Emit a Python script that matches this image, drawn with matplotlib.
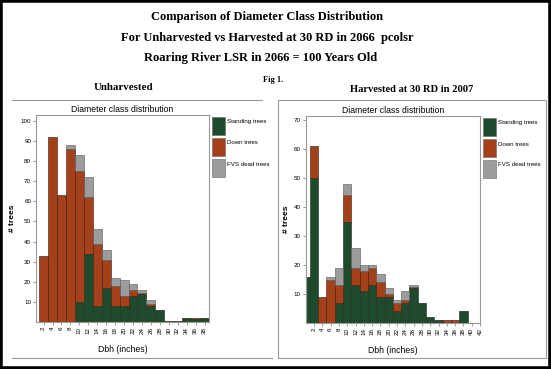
import matplotlib.pyplot as plt
from matplotlib.patches import Rectangle
from matplotlib.lines import Line2D
import numpy as np

# ---- data ----
# Unharvested
dbh_unh = [2, 4, 6, 8, 10, 12, 14, 16, 18, 20, 22, 24, 26, 28, 30, 32, 34, 36, 38]
stand_unh = [0, 0, 0, 0, 10, 34, 8, 17, 8, 8, 13, 14, 8, 6, 0.5, 0.5, 2, 1.5, 2]
down_unh = [33, 92, 63, 86, 65, 28, 31, 14, 10, 5, 3, 0.5, 1, 0, 0, 0, 0, 0.5, 0]
fvs_unh = [0, 0, 0, 2, 8, 10, 7, 5, 4, 8, 3, 1.5, 2, 0, 0, 0, 0, 0, 0]
ticks_unh = list(range(2, 39, 2))

# Harvested at 30 RD in 2007
dbh_harv = [0, 2, 4, 6, 8, 10, 12, 14, 16, 18, 20, 22, 24, 26, 28, 30, 32, 34, 36, 38, 40, 42]
stand_harv = [16, 50, 0, 0, 7, 35, 13, 11, 13, 9, 9, 4, 7, 12, 7, 2, 1, 0, 0, 4, 0, 0]
down_harv = [0, 11, 9, 15, 6, 9, 6, 7, 6, 5, 1, 3, 1, 0.5, 0, 0, 0, 1, 1, 0, 0, 0]
fvs_harv = [0, 0, 0, 1, 6, 4, 7, 2, 1, 3, 2, 1, 3, 0.5, 0, 0, 0, 0, 0, 0, 0, 0]
ticks_harv = list(range(2, 43, 2))

series_names = ['Standing trees', 'Down trees', 'FVS dead trees']
colors = ['#1e4b2d', '#a5411a', '#9c9c9c']

W, H = 551, 369
sans = ['Liberation Sans Narrow', 'Liberation Sans', 'DejaVu Sans']
serif = 'Liberation Serif'

fig = plt.figure(figsize=(W / 100, H / 100), dpi=100)

def fx(px):
    return px / W

def fy(py):
    return 1 - py / H

# titles
fig.text(fx(267), fy(17), 'Comparison of Diameter Class Distribution', ha='center', va='center',
         family=serif, weight='bold', size=9)
fig.text(fx(267), fy(38), 'For Unharvested vs Harvested at 30 RD in 2066  pcolsr', ha='center', va='center',
         family=serif, weight='bold', size=9)
fig.text(fx(261), fy(58), 'Roaring River LSR in 2066 = 100 Years Old', ha='center', va='center',
         family=serif, weight='bold', size=9)
fig.text(fx(273), fy(80), 'Fig 1.', ha='center', va='center', family=serif, weight='bold', size=6)
fig.text(fx(124), fy(87), 'Unharvested', ha='center', va='center', family=serif, weight='bold', size=7.8)
fig.text(fx(412), fy(90), 'Harvested at 30 RD in 2007', ha='center', va='center',
         family=serif, weight='bold', size=7.6)

# panel frame lines
fig.add_artist(Line2D([fx(12), fx(262)], [fy(100), fy(100)], color='#9a9a9a', lw=0.8))
fig.add_artist(Line2D([fx(12), fx(272)], [fy(357.5), fy(357.5)], color='#9a9a9a', lw=0.8))
fig.add_artist(Rectangle((fx(278), fy(357.5)), fx(268), (257.5) / H, fill=False,
                         edgecolor='#9a9a9a', lw=0.8))

# outer black border
fig.add_artist(Rectangle((0, 0), 1, 1, fill=False, edgecolor='black', lw=4,
                         transform=fig.transFigure))


def draw_panel(rect, dbh, stand, down, fvs, ticks, xlim, ylim, yticks, leg_x, leg_y):
    ax = fig.add_axes(rect)
    stand = np.array(stand)
    down = np.array(down)
    fvs = np.array(fvs)
    ax.bar(dbh, stand, width=2, color=colors[0], edgecolor='#1a2a1a', lw=0.4)
    ax.bar(dbh, down, width=2, bottom=stand, color=colors[1], edgecolor='#3a1a0a', lw=0.4)
    ax.bar(dbh, fvs, width=2, bottom=stand + down, color=colors[2], edgecolor='#555555', lw=0.4)
    ax.set_xlim(*xlim)
    ax.set_ylim(*ylim)
    ax.set_xticks(ticks)
    ax.set_xticklabels([str(t) for t in ticks], rotation=90, family=sans, size=4.5)
    ax.set_yticks(yticks)
    ax.set_yticklabels([str(t) for t in yticks], family=sans, size=4.5)
    ax.tick_params(length=2, width=0.5, color='#777777', pad=1.5)
    for s in ax.spines.values():
        s.set_color('#999999')
        s.set_linewidth(0.8)
    ax.set_title('Diameter class distribution', family=sans, size=6.2, pad=2)
    ax.set_xlabel('Dbh (inches)', family=sans, size=6.2, labelpad=8)
    ax.set_ylabel('# trees', family=sans, size=6, weight='bold', labelpad=3)
    # legend boxes
    for i, (name, c) in enumerate(zip(series_names, colors)):
        top = leg_y + i * 21
        fig.add_artist(Rectangle((fx(leg_x), fy(top + 18)), 13 / W, 18 / H,
                                 facecolor=c, edgecolor='#666666', lw=0.4))
        fig.text(fx(leg_x + 15), fy(top + 5), name, ha='left', va='center',
                 family=sans, size=4.4)
    return ax


draw_panel([fx(36), fy(322), 173 / W, 207 / H], dbh_unh, stand_unh, down_unh, fvs_unh,
           ticks_unh, (0.3, 39), (0, 102.9), list(range(10, 101, 10)), 212, 117)
draw_panel([fx(305.7), fy(323), 174.3 / W, 207.3 / H], dbh_harv, stand_harv, down_harv, fvs_harv,
           ticks_harv, (0, 41.9), (0, 71.5), list(range(10, 71, 10)), 483, 118)

fig.savefig('out.png', dpi=100)
